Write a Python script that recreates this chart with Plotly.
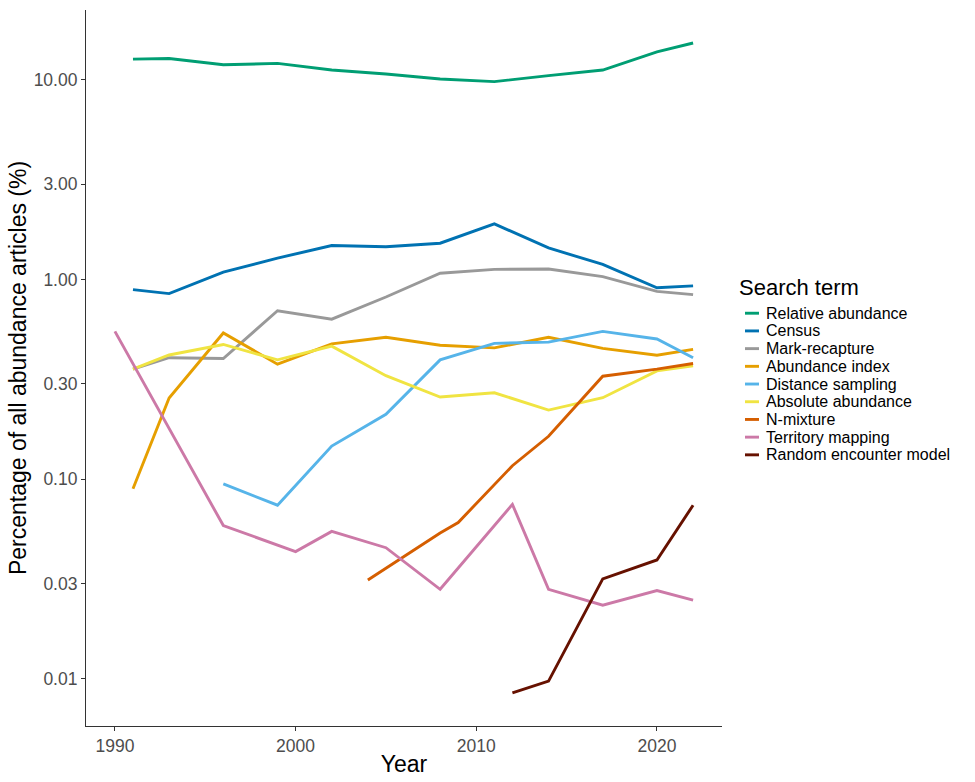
import plotly.graph_objects as go

years_main = [1991, 1993, 1996, 1999, 2002, 2005, 2008, 2011, 2014, 2017, 2020, 2022]
relative_abundance = [12.7, 12.8, 11.9, 12.1, 11.2, 10.7, 10.1, 9.8, 10.5, 11.2, 13.8, 15.3]
census = [0.89, 0.85, 1.09, 1.28, 1.48, 1.46, 1.52, 1.90, 1.44, 1.19, 0.91, 0.93]
mark_recapture = [0.356, 0.406, 0.402, 0.698, 0.633, 0.818, 1.075, 1.125, 1.13, 1.035, 0.873, 0.84]
abundance_index = [0.0896, 0.255, 0.54, 0.377, 0.476, 0.514, 0.469, 0.455, 0.514, 0.452, 0.418, 0.447]
absolute_abundance = [0.356, 0.419, 0.473, 0.396, 0.464, 0.330, 0.258, 0.271, 0.222, 0.256, 0.349, 0.370]

years_distance = [1996, 1999, 2002, 2005, 2008, 2011, 2014, 2017, 2020, 2022]
distance_sampling = [0.0948, 0.0741, 0.1466, 0.2115, 0.396, 0.479, 0.486, 0.550, 0.504, 0.406]

years_nmix = [2004, 2008, 2009, 2012, 2014, 2017, 2020, 2022]
n_mixture = [0.0313, 0.0538, 0.0607, 0.1168, 0.164, 0.328, 0.356, 0.380]

years_territory = [1990, 1996, 2000, 2002, 2005, 2008, 2012, 2014, 2017, 2020, 2022]
territory_mapping = [0.550, 0.0586, 0.0434, 0.0548, 0.0454, 0.0281, 0.0748, 0.0281, 0.0234, 0.0277, 0.0248]

years_rem = [2012, 2014, 2017, 2020, 2022]
random_encounter = [0.0085, 0.00975, 0.0317, 0.0394, 0.0741]

y_tickvals = [0.01, 0.03, 0.1, 0.3, 1, 3, 10]
y_ticktext = ["0.01", "0.03", "0.10", "0.30", "1.00", "3.00", "10.00"]
x_tickvals = [1990, 2000, 2010, 2020]

series_names = ["Relative abundance", "Census", "Mark-recapture", "Abundance index",
                "Distance sampling", "Absolute abundance", "N-mixture",
                "Territory mapping", "Random encounter model"]
series_x = [years_main, years_main, years_main, years_main, years_distance,
            years_main, years_nmix, years_territory, years_rem]
series_y = [relative_abundance, census, mark_recapture, abundance_index,
            distance_sampling, absolute_abundance, n_mixture, territory_mapping,
            random_encounter]
series_colors = ["#009E73", "#0072B2", "#999999", "#E69F00", "#56B4E9",
                 "#F0E442", "#D55E00", "#CC79A7", "#661100"]

W, H = 975, 782
L, R, T, B = 86, 253, 10, 44
PW, PH = W - L - R, H - T - B


def px_to_paper_x(p):
    return (p - L) / PW


def px_to_paper_y(q):
    return (H - B - q) / PH


fig = go.Figure()
for name, xs, ys, col in zip(series_names, series_x, series_y, series_colors):
    fig.add_trace(go.Scatter(x=xs, y=ys, mode="lines", name=name, showlegend=False,
                             line=dict(color=col, width=2.9)))

# Legend (ggplot style: short keys, tight spacing)
annotations = [dict(
    text="Search term", xref="paper", yref="paper",
    x=px_to_paper_x(737), y=px_to_paper_y(292), xanchor="left", yanchor="middle",
    showarrow=False, font=dict(size=22, color="black"))]
shapes = []
n_items = len(series_names)
legend_mid, legend_step = 390.3, 18.0
legend_top = legend_mid - (n_items - 1) / 2 * legend_step
for i, (name, col) in enumerate(zip(series_names, series_colors)):
    yc = legend_top + i * legend_step
    shapes.append(dict(type="line", xref="paper", yref="paper",
                       x0=px_to_paper_x(745), x1=px_to_paper_x(759),
                       y0=px_to_paper_y(yc), y1=px_to_paper_y(yc),
                       line=dict(color=col, width=2.9)))
    annotations.append(dict(
        text=name, xref="paper", yref="paper",
        x=px_to_paper_x(765), y=px_to_paper_y(yc), xanchor="left", yanchor="middle",
        borderpad=0,
        showarrow=False, font=dict(size=16, color="black")))

fig.update_layout(
    width=W, height=H,
    margin=dict(l=L, r=R, t=T, b=B),
    paper_bgcolor="white", plot_bgcolor="white",
    font=dict(family="Liberation Sans, Arial, sans-serif", color="black"),
    showlegend=False,
    annotations=annotations,
    shapes=shapes,
)
fig.update_xaxes(
    range=[1988.4, 2023.6], tickvals=x_tickvals,
    showgrid=False, zeroline=False,
    showline=True, linecolor="#333333", linewidth=1.1,
    ticks="outside", ticklen=4, tickcolor="#333333",
    tickfont=dict(size=17.5, color="#4D4D4D"),
    title=dict(text="Year", font=dict(size=23, color="black"), standoff=0),
)
fig.update_yaxes(
    type="log", range=[-2.236, 1.350],
    tickvals=y_tickvals, ticktext=y_ticktext,
    showgrid=False, zeroline=False,
    showline=True, linecolor="#333333", linewidth=1.1,
    ticks="outside", ticklen=4, tickcolor="#333333",
    tickfont=dict(size=17.5, color="#4D4D4D"),
    title=dict(text="Percentage of all abundance articles (%)", font=dict(size=23, color="black"), standoff=0),
)

fig.write_html("out.html")
